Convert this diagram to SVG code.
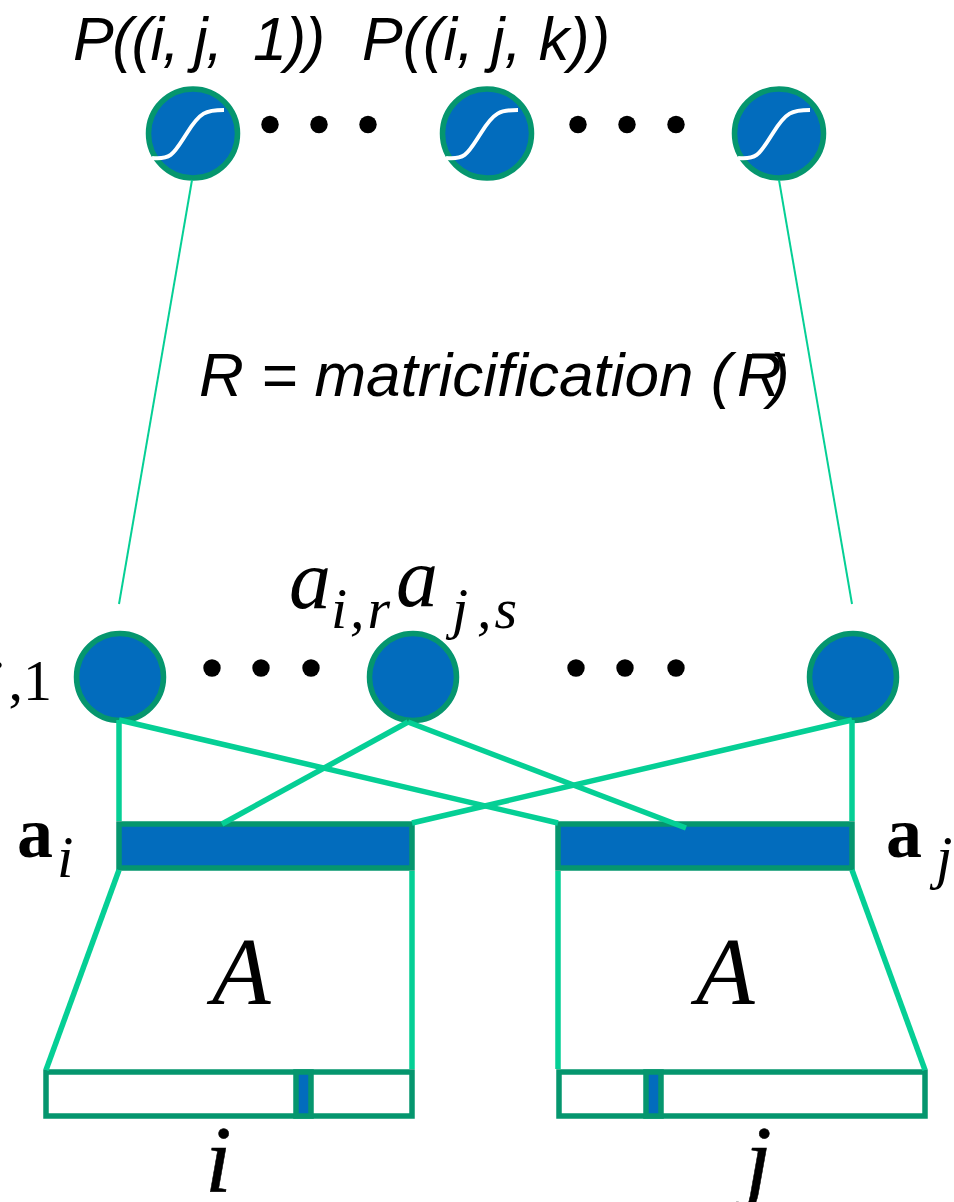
<svg xmlns="http://www.w3.org/2000/svg" width="954" height="1202" viewBox="0 0 954 1202">
<style>
.s{font-family:"Liberation Sans",Arial,sans-serif;font-style:italic;fill:#000}
.t{font-family:"Liberation Serif","Times New Roman",serif;font-style:italic;fill:#000}
.r{font-family:"Liberation Serif","Times New Roman",serif;fill:#000}
.b{font-family:"Liberation Serif","Times New Roman",serif;font-weight:bold;fill:#000}
.n{fill:#026cbd;stroke:#05966e;stroke-width:5.5}
.c{stroke:#05cf95;stroke-width:5.5;fill:none}
.h{stroke:#05cf95;stroke-width:2;fill:none}
.e{stroke:#05966e;stroke-width:5.5;fill:#fff}
.w{stroke:#fff;stroke-width:4;fill:none}
</style>
<rect width="954" height="1202" fill="#fff"/>
<g id="p1"><circle class="n" cx="193" cy="133.500" r="44.500"/><path class="w" d="M152 158C172 160 174 153 187 133C200 112 206 110 224 110"/></g>
<g id="p2"><circle class="n" cx="487" cy="133.500" r="44.500"/><path class="w" d="M446 158C466 160 468 153 481 133C494 112 500 110 518 110"/></g>
<g id="p3"><circle class="n" cx="779" cy="133.500" r="44.500"/><path class="w" d="M738 158C758 160 760 153 773 133C786 112 792 110 810 110"/></g>
<g id="dots">
<circle cx="270" cy="124.500" r="8.700"/><circle cx="319" cy="124.500" r="8.700"/><circle cx="368" cy="124.500" r="8.700"/>
<circle cx="578" cy="124.500" r="8.700"/><circle cx="627" cy="124.500" r="8.700"/><circle cx="676" cy="124.500" r="8.700"/>
<circle cx="212" cy="668" r="8.700"/><circle cx="261" cy="668" r="8.700"/><circle cx="311" cy="668" r="8.700"/>
<circle cx="576" cy="668" r="8.700"/><circle cx="625" cy="668" r="8.700"/><circle cx="676" cy="668" r="8.700"/>
</g>
<g id="h1"><circle class="n" cx="120" cy="677" r="43.500"/></g>
<g id="h2"><circle class="n" cx="413" cy="677" r="43.500"/></g>
<g id="h3"><circle class="n" cx="853" cy="677" r="43.500"/></g>
<g id="ai"><rect class="n" x="119" y="824" width="293" height="44"/></g>
<g id="aj"><rect class="n" x="558" y="824" width="294" height="44"/></g>
<g id="onehot-i"><rect class="e" x="46" y="1072" width="366" height="44"/><rect class="n" x="296" y="1072" width="15" height="44"/></g>
<g id="onehot-j"><rect class="e" x="559" y="1072" width="366" height="44"/><rect class="n" x="646" y="1072" width="15" height="44"/></g>
<g id="connectors">
<line class="h" x1="192" y1="180" x2="119" y2="604"/>
<line class="h" x1="779" y1="180" x2="852" y2="604"/>
<line class="c" x1="119" y1="720" x2="119" y2="821"/>
<line class="c" x1="119" y1="720" x2="558" y2="823"/>
<line class="c" x1="408" y1="722" x2="222" y2="824"/>
<line class="c" x1="408" y1="722" x2="686" y2="828"/>
<line class="c" x1="852" y1="720" x2="412" y2="823"/>
<line class="c" x1="852" y1="720" x2="852" y2="821"/>
<line class="c" x1="119" y1="870" x2="46" y2="1070"/>
<line class="c" x1="412" y1="871" x2="412" y2="1069"/>
<line class="c" x1="558" y1="871" x2="558" y2="1069"/>
<line class="c" x1="852" y1="870" x2="925" y2="1070"/>
</g>
<g id="labels">
<text class="s" x="73" y="60" font-size="61" xml:space="preserve" textLength="252">P((i, j,  1))</text>
<text class="s" x="362" y="60" font-size="61" textLength="248">P((i, j, k))</text>
<text class="s" x="199" y="396" font-size="62">R = matricification (</text>
<text class="s" x="737" y="396" font-size="62">R</text>
<text class="s" x="769" y="396" font-size="62">)</text>
<line x1="752" y1="355" x2="785" y2="355" stroke="#000" stroke-width="3"/>
<text class="t" x="289" y="608" font-size="84">a</text>
<text class="t" x="331" y="628" font-size="58" letter-spacing="3">i,r</text>
<text class="t" x="396" y="606" font-size="84">a</text>
<text class="t" x="452" y="628" font-size="58">j</text>
<text class="t" x="477" y="628" font-size="58" letter-spacing="3">,s</text>
<text class="t" x="-13" y="700" font-size="58">j</text>
<text class="r" x="8.500" y="700" font-size="58">,1</text>
<text class="b" x="17" y="857" font-size="72">a</text>
<text class="t" x="57" y="877" font-size="59">i</text>
<text class="b" x="886" y="857" font-size="72">a</text>
<text class="t" x="936" y="877" font-size="59">j</text>
<text class="t" x="212" y="1004" font-size="96">A</text>
<text class="t" x="696" y="1004" font-size="96">A</text>
<text class="t" x="205" y="1192" font-size="96" stroke="#000" stroke-width="0.500">i</text>
<text class="t" x="745" y="1192" font-size="96" stroke="#000" stroke-width="0.500">j</text>
</g>
</svg>
